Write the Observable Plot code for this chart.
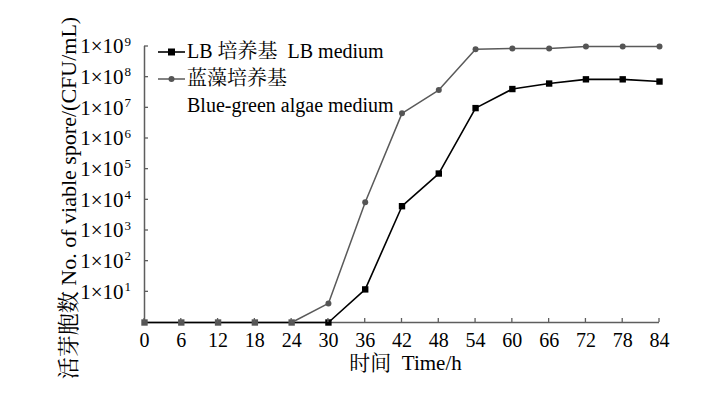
<!DOCTYPE html>
<html><head><meta charset="utf-8">
<script src="https://cdn.jsdelivr.net/npm/d3@7"></script>
<script src="https://cdn.jsdelivr.net/npm/@observablehq/plot@0.6"></script>
<style>
body{margin:0;background:#fff}
svg{font-family:"Liberation Serif","Noto Serif CJK SC","Noto Sans CJK SC",serif}
</style>
</head><body><div id="chart"></div>
<script>
const hours = [0, 6, 12, 18, 24, 30, 36, 42, 48, 54, 60, 66, 72, 78, 84];
const lbValues = [1, 1, 1, 1, 1, 1, 12, 6.2e3, 7.2e4, 9.8e6, 4.1e7, 6.2e7, 8.5e7, 8.5e7, 7.2e7];
const algaeValues = [1, 1, 1, 1, 1, 4.2, 8.3e3, 6.6e6, 3.8e7, 8.2e8, 8.6e8, 8.6e8, 1e9, 1e9, 1e9];
const yTickExponents = [1, 2, 3, 4, 5, 6, 7, 8, 9];
const yTickBase = "1×10";
const legendLabels = ["LB 培养基  LB medium", "蓝藻培养基", "Blue-green algae medium"];
const xTitle = "时间  Time/h";
const yTitle = "活芽胞数 No. of viable spore/(CFU/mL)";

const lb = hours.map((h, i) => ({h, v: lbValues[i]}));
const algae = hours.map((h, i) => ({h, v: algaeValues[i]}));
const axisColor = "#5e5e5e";

const plot = Plot.plot({
  width: 719, height: 413,
  marginLeft: 144, marginRight: 60, marginTop: 46, marginBottom: 91,
  style: {background: "#fff", fontSize: "20px", color: "#000", overflow: "visible"},
  x: {domain: [0, 84], axis: null},
  y: {type: "log", domain: [1, 1e9], axis: null},
  marks: [
    Plot.ruleY([1], {stroke: axisColor, strokeWidth: 1.5}),
    Plot.ruleX([0], {stroke: axisColor, strokeWidth: 1.5}),
    Plot.text(hours, {x: d => d, y: 1, text: d => String(d), lineAnchor: "top", dy: 10, fontSize: 20, fill: "#000"}),
    Plot.text(yTickExponents, {x: 0, y: d => 10 ** d, text: () => yTickBase, textAnchor: "end", dx: -21, fontSize: 21, fill: "#000"}),
    Plot.text(yTickExponents, {x: 0, y: d => 10 ** d, text: d => String(d), textAnchor: "start", dx: -20, dy: -5, fontSize: 13, fill: "#000"}),
    Plot.text([yTitle], {frameAnchor: "left", textAnchor: "middle", rotate: -90, dx: -75.5, dy: 13.5, fontSize: 22, fill: "#000"}),
    Plot.text([xTitle], {frameAnchor: "bottom", textAnchor: "middle", dx: 3.5, dy: 47.5, fontSize: 21, fill: "#000"}),
    Plot.line(lb, {x: "h", y: "v", stroke: "#000", strokeWidth: 1.6}),
    Plot.dot(lb, {x: "h", y: "v", symbol: "square", fill: d => d.h <= 24 ? "#555" : "#000", r: 3.6, stroke: "none"}),
    Plot.line(algae.slice(4), {x: "h", y: "v", stroke: "#5a5a5a", strokeWidth: 1.5}),
    Plot.dot(algae.slice(5), {x: "h", y: "v", fill: "#555", r: 3, stroke: "none"})
  ]
});

// inward tick marks drawn through Plot's scales
const sx = plot.scale("x"), sy = plot.scale("y");
const svg = d3.select(plot);
const ticks = svg.append("g").attr("stroke", axisColor).attr("stroke-width", 1.3);
const y0 = sy.apply(1), x0 = sx.apply(0);
hours.forEach(h => {
  const x = sx.apply(h);
  ticks.append("line").attr("x1", x).attr("x2", x).attr("y1", y0).attr("y2", y0 - 4);
});
yTickExponents.forEach(e => {
  const y = sy.apply(10 ** e);
  ticks.append("line").attr("x1", x0).attr("x2", x0 + 4).attr("y1", y).attr("y2", y);
});

// legend
const lg = svg.append("g").attr("text-anchor", "start").attr("fill", "#000");
const lx = 158, tx = 187;
lg.append("line").attr("x1", lx).attr("x2", lx + 27).attr("y1", 52).attr("y2", 52).attr("stroke", "#000").attr("stroke-width", 1.6);
lg.append("rect").attr("x", lx + 10).attr("y", 48.5).attr("width", 7).attr("height", 7).attr("fill", "#000");
lg.append("text").attr("x", tx).attr("y", 58).attr("font-size", 20).text(legendLabels[0]);
lg.append("line").attr("x1", lx).attr("x2", lx + 27).attr("y1", 79).attr("y2", 79).attr("stroke", "#5a5a5a").attr("stroke-width", 1.5);
lg.append("circle").attr("cx", lx + 13.5).attr("cy", 79).attr("r", 3).attr("fill", "#555");
lg.append("text").attr("x", tx).attr("y", 85).attr("font-size", 20).text(legendLabels[1]);
lg.append("text").attr("x", tx).attr("y", 112).attr("font-size", 20).text(legendLabels[2]);

document.getElementById("chart").appendChild(plot);
</script>
</body></html>
